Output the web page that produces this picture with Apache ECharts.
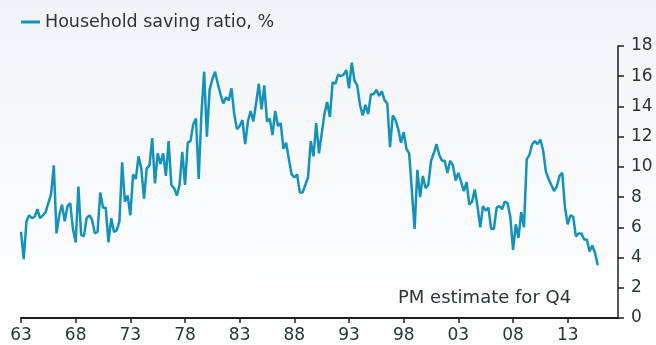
<!DOCTYPE html>
<html>
<head>
<meta charset="utf-8">
<script src="https://cdn.jsdelivr.net/npm/echarts@6/dist/echarts.min.js"></script>
<style>
  html, body { margin: 0; padding: 0; }
  body { width: 656px; height: 345px; background: linear-gradient(#f1f4f7, #ffffff); }
  #chart { width: 656px; height: 345px; }
</style>
</head>
<body>
<div id="chart"></div>
<script>
// quarterly household saving ratio, 1963 Q1 .. 2015 Q4 (last one is the PM estimate)
const first_year = 1963;
const saving_ratio = [
  5.7, 3.9, 6.4, 6.8,  6.6, 6.7, 7.2, 6.6,  6.8, 7.0, 7.6, 8.2,  10.1, 5.6, 6.8, 7.5,   // 63-66
  6.4, 7.4, 7.6, 5.9,  5.0, 8.7, 5.5, 5.4,  6.6, 6.8, 6.5, 5.6,  5.7, 8.3, 7.3, 7.3,    // 67-70
  5.0, 6.6, 5.7, 5.8,  6.4, 10.3, 7.7, 8.1, 6.8, 9.5, 9.2, 10.7, 9.9, 7.9, 9.9, 10.1,   // 71-74
  11.9, 8.9, 10.9, 10.2, 10.9, 9.4, 11.7, 8.8, 8.6, 8.1, 8.8, 11.0, 8.8, 11.6, 11.7, 12.8, // 75-78
  13.2, 9.2, 13.5, 16.3, 12.0, 15.1, 15.8, 16.3, 15.5, 14.8, 14.2, 14.6, 14.4, 15.2, 13.5, 12.5, // 79-82
  12.7, 13.1, 11.5, 13.0, 13.7, 13.0, 14.2, 15.5, 13.8, 15.4, 13.0, 13.2, 12.1, 13.7, 12.7, 12.9, // 83-86
  11.2, 11.6, 10.5, 9.5, 9.3, 9.5, 8.3, 8.3, 8.8, 9.3, 11.7, 10.7, 12.9, 10.9, 12.2, 13.5, // 87-90
  14.3, 13.3, 15.6, 15.5, 16.1, 16.0, 16.1, 16.4, 15.2, 16.9, 15.7, 15.4, 14.1, 13.4, 14.1, 13.5, // 91-94
  14.8, 14.8, 15.1, 14.7, 15.0, 14.4, 14.2, 11.3, 13.4, 13.1, 12.5, 11.6, 12.3, 11.2, 10.9, 8.4, // 95-98
  5.9, 9.8, 8.0, 9.4, 8.6, 8.8, 10.4, 10.9, 11.5, 10.8, 10.4, 10.4, 9.6, 10.4, 10.1, 9.1, // 99-02
  9.6, 9.0, 8.4, 9.0, 7.5, 7.7, 8.5, 7.4, 6.0, 7.4, 7.1, 7.3, 5.9, 5.9, 7.3, 7.4,    // 03-06
  7.2, 7.7, 7.6, 6.7, 4.5, 6.2, 5.3, 7.0, 6.0, 10.5, 10.8, 11.5, 11.7, 11.5, 11.8, 11.1, // 07-10
  9.7, 9.2, 8.8, 8.4, 8.7, 9.4, 9.6, 7.3, 6.2, 6.8, 6.7, 5.4, 5.6, 5.6, 5.2, 5.2,    // 11-14
  4.4, 4.8, 4.3, 3.5                                                                   // 15
];
const y_ticks = [0, 2, 4, 6, 8, 10, 12, 14, 16, 18];
const legend_label = "Household saving ratio, %";
const note_label = "PM estimate for Q4";

const line_color = "#1592ba";
const ink = "#2b3536";
const axis_color = "#1f1f1f";
const font = "'DejaVu Sans', 'Noto Sans', sans-serif";

// x counts years from 1958, so the axis starts at 5 (= 1963) and ticks every 5 years
const base_year = 1958;
const x_min = first_year - base_year;
const x_max = x_min + 54.6;
const points = saving_ratio.map((v, i) => [x_min + i / 4, v]);

const chart = echarts.init(document.getElementById("chart"), null, { renderer: "canvas" });
chart.setOption({
    backgroundColor: "transparent",
    animation: false,
    textStyle: { fontFamily: font },
    legend: {
        left: 16,
        top: 8,
        itemWidth: 19,
        itemHeight: 3,
        itemGap: 6,
        icon: "rect",
        textStyle: { fontSize: 17.5, color: ink, fontFamily: font },
        data: [legend_label],
    },
    grid: { left: 21, right: 38, top: 46, bottom: 27 },
    xAxis: {
        type: "value",
        min: x_min,
        max: x_max,
        interval: 5,
        splitLine: { show: false },
        axisLine: { show: true, lineStyle: { color: axis_color, width: 2 } },
        axisTick: { show: true, length: 5, lineStyle: { color: axis_color, width: 1.5 } },
        axisLabel: {
            fontSize: 17,
            color: ink,
            fontFamily: font,
            margin: 9,
            showMaxLabel: false,
            formatter: (v) => (Number.isInteger(v) ? String((base_year + v) % 100).padStart(2, "0") : ""),
        },
    },
    yAxis: {
        type: "value",
        position: "right",
        min: y_ticks[0],
        max: y_ticks[y_ticks.length - 1],
        interval: 2,
        splitLine: { show: false },
        axisLine: { show: true, lineStyle: { color: axis_color, width: 1.5 } },
        axisTick: { show: true, length: 6, lineStyle: { color: axis_color, width: 1.5 } },
        axisLabel: { fontSize: 17, color: ink, fontFamily: font, margin: 13 },
    },
    graphic: [{
        type: "text",
        left: 398,
        top: 289,
        style: { text: note_label, font: "18px " + font, fill: ink },
    }],
    series: [{
        name: legend_label,
        type: "line",
        data: points,
        showSymbol: false,
        symbol: "none",
        lineStyle: { color: line_color, width: 2.5 },
        itemStyle: { color: line_color },
    }],
});
</script>
</body>
</html>
